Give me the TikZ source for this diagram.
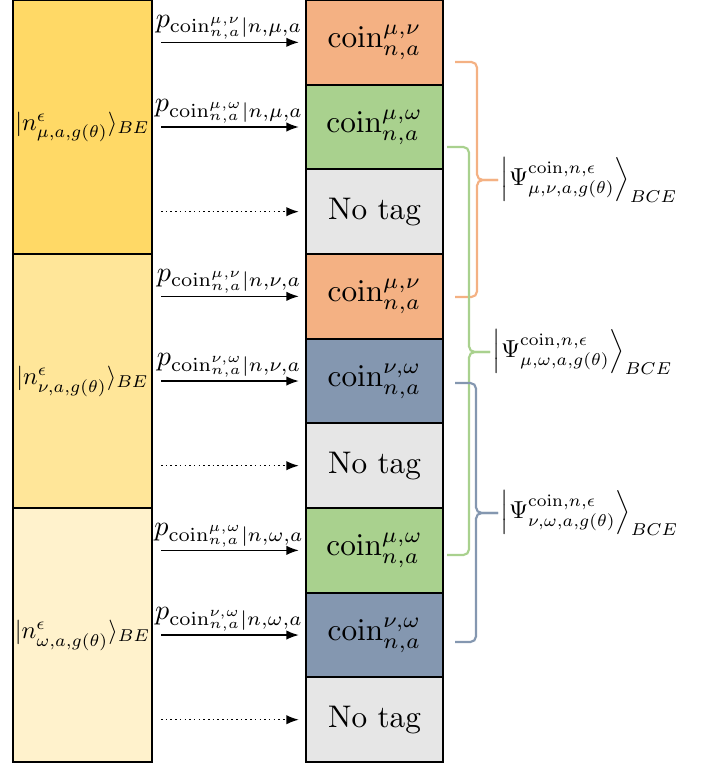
\documentclass[tikz,border=0pt]{standalone}
\usepackage{amsmath}
\usetikzlibrary{arrows.meta}

\definecolor{goldA}{HTML}{FFD966}
\definecolor{goldB}{HTML}{FFE699}
\definecolor{goldC}{HTML}{FFF2CC}
\definecolor{tagOrange}{HTML}{F4B183}
\definecolor{tagGreen}{HTML}{A9D18E}
\definecolor{tagBlue}{HTML}{8497B0}
\definecolor{tagGray}{HTML}{E6E6E6}

\tikzset{
	statebox/.style={draw, line width=0.6pt, minimum width=44.5pt, minimum height=81.3pt, inner sep=0pt},
	statelab/.style={scale=0.785, inner sep=0pt},
	tagbox/.style={draw, line width=0.6pt, minimum width=43.8pt, minimum height=27.1pt, inner sep=0pt},
	parr/.style={-{Latex[length=4pt, width=3pt]}, line width=0.5pt, shorten <=2.6pt, shorten >=2pt},
	plab/.style={above, inner sep=1pt, scale=0.9},
	bracket/.style={line width=0.7pt, rounded corners=1.8pt},
	psilab/.style={anchor=west, inner sep=1pt, scale=0.785}
}

\begin{document}
\begin{tikzpicture}[x=0.32pt, y=-0.32pt]
	\useasboundingbox (0,0) rectangle (712,763);
	
	% states of the first register
	\node[statebox, fill=goldA, label={[statelab]center:$|n^{\epsilon}_{\mu,a,g(\theta)}\rangle_{BE}$}] (nmu) at (82.5,127) {};
	\node[statebox, fill=goldB, label={[statelab]center:$|n^{\epsilon}_{\nu,a,g(\theta)}\rangle_{BE}$}] (nnu) at (82.5,381) {};
	\node[statebox, fill=goldC, label={[statelab]center:$|n^{\epsilon}_{\omega,a,g(\theta)}\rangle_{BE}$}] (nom) at (82.5,635) {};
	
	% coin tags
	\foreach \i/\col/\txt in {1/tagOrange/{$\mathrm{coin}^{\mu,\nu}_{n,a}$}, 2/tagGreen/{$\mathrm{coin}^{\mu,\omega}_{n,a}$}, 3/tagGray/{No tag},
		4/tagOrange/{$\mathrm{coin}^{\mu,\nu}_{n,a}$}, 5/tagBlue/{$\mathrm{coin}^{\nu,\omega}_{n,a}$}, 6/tagGray/{No tag},
		7/tagGreen/{$\mathrm{coin}^{\mu,\omega}_{n,a}$}, 8/tagBlue/{$\mathrm{coin}^{\nu,\omega}_{n,a}$}, 9/tagGray/{No tag}}
	{
		\node[tagbox, fill=\col] (c\i) at (374.5, 84.67*\i - 42.33) {\txt};
	}
	
	% probabilities
	\draw[parr] (nmu.east |- c1) -- node[plab] {$p_{\mathrm{coin}^{\mu,\nu}_{n,a}|n,\mu,a}$} (c1.west);
	\draw[parr] (nmu.east |- c2) -- node[plab] {$p_{\mathrm{coin}^{\mu,\omega}_{n,a}|n,\mu,a}$} (c2.west);
	\draw[parr, densely dotted] (nmu.east |- c3) -- (c3.west);
	\draw[parr] (nnu.east |- c4) -- node[plab] {$p_{\mathrm{coin}^{\mu,\nu}_{n,a}|n,\nu,a}$} (c4.west);
	\draw[parr] (nnu.east |- c5) -- node[plab] {$p_{\mathrm{coin}^{\nu,\omega}_{n,a}|n,\nu,a}$} (c5.west);
	\draw[parr, densely dotted] (nnu.east |- c6) -- (c6.west);
	\draw[parr] (nom.east |- c7) -- node[plab] {$p_{\mathrm{coin}^{\mu,\omega}_{n,a}|n,\omega,a}$} (c7.west);
	\draw[parr] (nom.east |- c8) -- node[plab] {$p_{\mathrm{coin}^{\nu,\omega}_{n,a}|n,\omega,a}$} (c8.west);
	\draw[parr, densely dotted] (nom.east |- c9) -- (c9.west);
	
	% joint states
	\node[psilab] (psimunu) at (498,180) {$\left|\Psi^{\mathrm{coin},n,\epsilon}_{\mu,\nu,a,g(\theta)}\right\rangle_{BCE}$};
	\node[psilab] (psimuom) at (490,352) {$\left|\Psi^{\mathrm{coin},n,\epsilon}_{\mu,\omega,a,g(\theta)}\right\rangle_{BCE}$};
	\node[psilab] (psinuom) at (498,513) {$\left|\Psi^{\mathrm{coin},n,\epsilon}_{\nu,\omega,a,g(\theta)}\right\rangle_{BCE}$};
	
	\draw[bracket, tagOrange] (455,62) -| (477,180) -- (psimunu.west);
	\draw[bracket, tagOrange] (455,297) -| (477,180) -- (psimunu.west);
	\draw[bracket, tagGreen] (447,147) -| (469,352) -- (psimuom.west);
	\draw[bracket, tagGreen] (447,555) -| (469,352) -- (psimuom.west);
	\draw[bracket, tagBlue] (455,383) -| (476,513) -- (psinuom.west);
	\draw[bracket, tagBlue] (455,642) -| (476,513) -- (psinuom.west);
\end{tikzpicture}
\end{document}
